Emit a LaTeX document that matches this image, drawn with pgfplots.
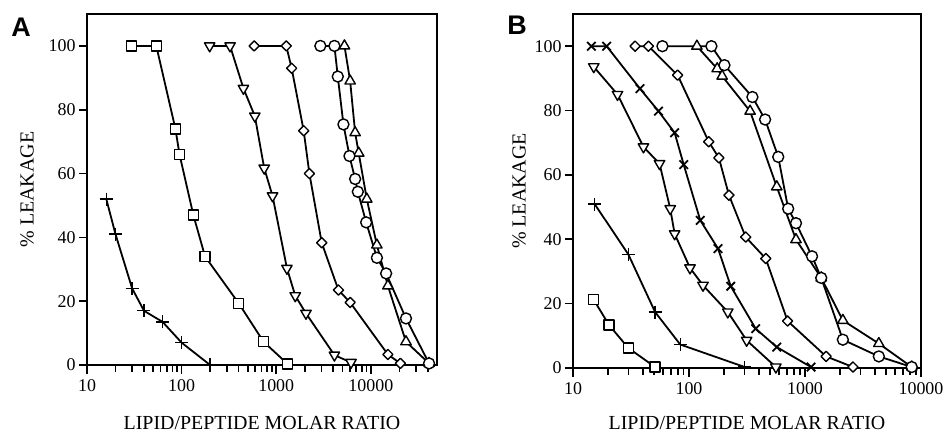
\documentclass[border=0pt]{standalone}
\usepackage{fontspec}
\setmainfont{Liberation Serif}
\newfontfamily\panelfont{Liberation Sans}
\usepackage{pgfplots}
\pgfplotsset{compat=1.18}
\tikzset{
  ser/.style={black, solid, line width=1.8bp, line join=round},
  mk/.style={solid, black, fill=white, line width=1.4bp},
  tk/.style={black, line width=1.6bp, line cap=butt},
}
\begin{document}
\begin{tikzpicture}
\path (0,0) (950bp,436bp);
\node[font=\panelfont\bfseries\fontsize{27}{27}\selectfont] at (21bp,409bp) {A};
\node[font=\panelfont\bfseries\fontsize{27}{27}\selectfont] at (517bp,411bp) {B};
% Panel A
\begin{axis}[xmode=log, log basis x=10, at={(87bp,71bp)}, anchor=south west,
  scale only axis, width=350bp, height=351bp, xmin=10, xmax=50000, ymin=0, ymax=110,
  axis line style={line width=1.8bp},
  every tick/.append style={black, line width=1.5bp},
  xtick align=outside, ytick align=outside, xtick pos=bottom, ytick pos=left,
  tickwidth=8bp, subtickwidth=6bp,
  ytick={0,20,40,60,80,100}, yticklabels={0,20,40,60,80,100},
  xtick={10,100,1000,10000}, xticklabels={10,100,1000,10000},
  minor xtick={20,30,40,50,60,70,80,90,200,300,400,500,600,700,800,900,2000,3000,4000,5000,6000,7000,8000,9000,20000,30000,40000},
  tick label style={font=\fontsize{18}{18}\selectfont},
  xticklabel style={yshift=-3bp},
  label style={font=\fontsize{20}{20}\selectfont},
  clip=false,
  xlabel={LIPID/PEPTIDE MOLAR RATIO}, ylabel={\% LEAKAGE},
  x label style={at={(axis description cs:0.5,-0.165)}, anchor=center},
  y label style={at={(axis description cs:-0.171,0.5)}, anchor=center},
]
\pgfplotsinvokeforeach{20,30,40,50,60,70,80,90,200,300,400,500,600,700,800,900,2000,3000,4000,5000,6000,7000,8000,9000,20000,30000,40000}{\draw[tk] (axis cs:#1,0) -- ([yshift=-7bp]axis cs:#1,0);}
\pgfplotsinvokeforeach{10,100,1000,10000}{\draw[tk] (axis cs:#1,0) -- ([yshift=-9bp]axis cs:#1,0);}
\pgfplotsinvokeforeach{0,20,40,60,80,100}{\draw[tk] (axis cs:10,#1) -- ([xshift=-8bp]axis cs:10,#1);}
\addplot[ser, mark=+, mark size=6.5bp, mark options={mk}] coordinates {(16,52) (20,41) (30,24) (40,17) (63,13.5) (100,7) (200,0)};
\addplot[ser, mark=square*, mark size=5bp, mark options={mk}] coordinates {(29.5,100) (54,100) (86,74) (95,66) (133,47) (177,34) (402,19.3) (734,7.3) (1320,0.3)};
\addplot[ser, mark=triangle*, mark size=6bp, mark options={mk, rotate=180}] coordinates {(198,100) (325,100) (450,86.7) (594,78) (746,61.7) (914,53) (1297,30.3) (1589,21.7) (2061,16.2) (4120,3.1) (6170,0.8)};
\addplot[ser, mark=square*, mark size=3.6bp, mark options={mk, rotate=45}] coordinates {(585,100) (1276,100) (1455,93) (1950,73.4) (2240,60) (3024,38.3) (4540,23.5) (6040,19.6) (15130,3.3) (20500,0.5)};
\addplot[ser, mark=triangle*, mark size=6bp, mark options={mk}] coordinates {(5260,100) (6040,89) (6820,72.8) (7440,66.4) (9060,52) (11580,37.6) (15130,24.8) (23500,7.3) (41200,0.5)};
\addplot[ser, mark=*, mark size=5.5bp, mark options={mk}] coordinates {(2925,100) (4120,100) (4470,90.4) (5130,75.4) (5940,65.5) (6820,58.3) (7280,54.3) (8920,44.7) (11580,33.6) (14500,28.7) (23500,14.6) (41200,0.5)};
\end{axis}
% Panel B
\begin{axis}[xmode=log, log basis x=10, at={(573bp,68bp)}, anchor=south west,
  scale only axis, width=348bp, height=354bp, xmin=10, xmax=10000, ymin=0, ymax=110,
  axis line style={line width=1.8bp},
  every tick/.append style={black, line width=1.5bp},
  xtick align=outside, ytick align=outside, xtick pos=bottom, ytick pos=left,
  tickwidth=8bp, subtickwidth=6bp,
  ytick={0,20,40,60,80,100}, yticklabels={0,20,40,60,80,100},
  xtick={10,100,1000,10000}, xticklabels={10,100,1000,10000},
  minor xtick={20,30,40,50,60,70,80,90,200,300,400,500,600,700,800,900,2000,3000,4000,5000,6000,7000,8000,9000},
  tick label style={font=\fontsize{18}{18}\selectfont},
  xticklabel style={yshift=-3bp},
  label style={font=\fontsize{20}{20}\selectfont},
  clip=false,
  xlabel={LIPID/PEPTIDE MOLAR RATIO}, ylabel={\% LEAKAGE},
  x label style={at={(axis description cs:0.5,-0.155)}, anchor=center},
  y label style={at={(axis description cs:-0.155,0.5)}, anchor=center},
]
\pgfplotsinvokeforeach{20,30,40,50,60,70,80,90,200,300,400,500,600,700,800,900,2000,3000,4000,5000,6000,7000,8000,9000}{\draw[tk] (axis cs:#1,0) -- ([yshift=-7bp]axis cs:#1,0);}
\pgfplotsinvokeforeach{10,100,1000,10000}{\draw[tk] (axis cs:#1,0) -- ([yshift=-9bp]axis cs:#1,0);}
\pgfplotsinvokeforeach{0,20,40,60,80,100}{\draw[tk] (axis cs:10,#1) -- ([xshift=-8bp]axis cs:10,#1);}
\addplot[ser, mark=square*, mark size=5bp, mark options={mk}] coordinates {(15.1,21.2) (20.5,13.3) (30,6.2) (51,0.3)};
\addplot[ser, mark=+, mark size=6.5bp, mark options={mk}] coordinates {(15.4,50.9) (30,35.3) (51,17.4) (84,7.3) (302,0.3)};
\addplot[ser, mark=triangle*, mark size=6bp, mark options={mk, rotate=180}] coordinates {(15.1,93.6) (24.2,85) (40.5,68.7) (55.7,63.5) (68.9,49.5) (75.2,41.7) (102,31.1) (132,25.7) (216,17.4) (314,8.6) (561,0.3)};
\addplot[ser, mark=x, mark size=6bp, mark options={mk, line width=1.8bp}] coordinates {(14.4,100) (19.5,100) (37.8,86.8) (54.6,79.8) (75.2,73.1) (90,63.2) (125,45.9) (178,37.1) (229,25.4) (376,12.2) (571,6.5) (1127,0.3)};
\addplot[ser, mark=square*, mark size=3.6bp, mark options={mk, rotate=45}] coordinates {(34.3,100) (44.7,100) (79.8,91) (148,70.3) (181,65.3) (221,53.7) (308,40.7) (459,34) (708,14.6) (1520,3.6) (2590,0.3)};
\addplot[ser, mark=triangle*, mark size=6bp, mark options={mk}] coordinates {(117,100) (175,93) (193,90.7) (336,79.8) (571,56.3) (836,39.9) (1380,28) (2120,14.8) (4330,7.6) (8320,0.3)};
\addplot[ser, mark=*, mark size=5.5bp, mark options={mk}] coordinates {(59,100) (156,100) (202,94.1) (352,84.2) (453,77.2) (588,65.6) (716,49.5) (836,45) (1150,34.7) (1380,28) (2120,8.8) (4330,3.6) (8320,0.3)};
\end{axis}
\end{tikzpicture}
\end{document}
